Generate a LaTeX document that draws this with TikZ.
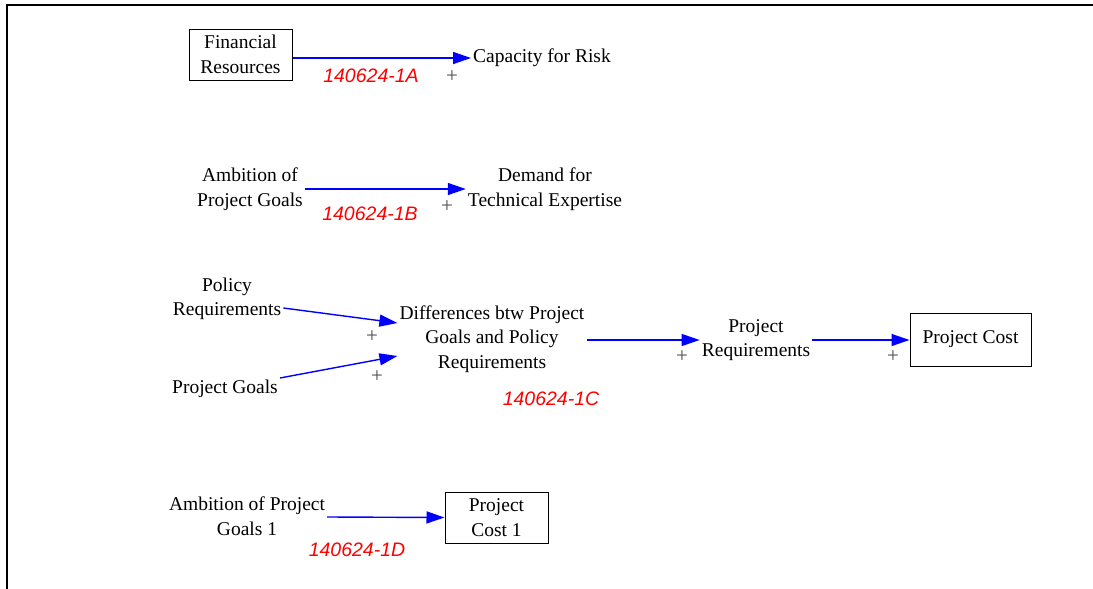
\documentclass[tikz,border=0pt]{standalone}
\usepackage{fontspec}
\setmainfont{Liberation Serif}
\newfontfamily\tagfont{Liberation Sans}
\usetikzlibrary{arrows.meta}

\begin{document}
\begin{tikzpicture}[
    x=1pt, y=-1pt,
    var text/.style={align=center, inner sep=2pt, font=\fontsize{19.5}{24.5}\selectfont, text=black},
    var box/.style={var text, draw, line width=1pt, inner sep=0pt},
    link/.style={-{Triangle[length=18pt, width=12pt]}, blue, line width=1.4pt},
    tag/.style={font=\tagfont\itshape\fontsize{19.5}{19.5}\selectfont, red},
    sign/.style={font=\fontsize{21}{21}\selectfont, black!70},
]

\useasboundingbox (0,0) rectangle (1093,589);

% === Frame ===
\draw[line width=2pt] (7,589) -- (7,5) -- (1093,5);

% === 140624-1A ===
\node[var box, minimum width=103, minimum height=51] (FinRes) at (240.5,54.5) {Financial\\Resources};
\node[var text] (CapRisk) at (542,58) {Capacity for Risk};
\draw[link] (FinRes.east |- CapRisk.west) -- (CapRisk.west);
\node[tag] (tagA) at (371,76) {140624-1A};
\node[sign] (sA) at (452,77) {+};

% === 140624-1B ===
\node[var text] (AmbPG) at (250,189) {Ambition of\\Project Goals};
\node[var text] (DemTech) at (545,189) {Demand for\\Technical Expertise};
\draw[link] (AmbPG.east) -- (DemTech.west);
\node[tag] (tagB) at (370,214) {140624-1B};
\node[sign] (sB) at (447,207) {+};

% === 140624-1C ===
\node[var text] (PolReq) at (227,299) {Policy\\Requirements};
\node[var text] (ProjGoals) at (225,389) {Project Goals};
\node[var text] (Diff) at (492,339) {Differences btw Project\\Goals and Policy\\Requirements};
\node[var text] (ProjReq) at (756,340) {Project\\Requirements};
\node[var box, minimum width=121, minimum height=53] (ProjCost) at (970.5,339.5) {Project Cost};

\draw[link] ([yshift=-9pt]PolReq.east) -- ([yshift=16pt]Diff.west);
\draw[link] ([yshift=11pt]ProjGoals.east) -- ([yshift=-17pt]Diff.west);
\draw[link] ([yshift=-1pt]Diff.east) -- ([yshift=0pt]ProjReq.west);
\draw[link] ([yshift=0pt]ProjReq.east) -- ([yshift=-0.5pt]ProjCost.west);

\node[sign] (sC1) at (372,337) {+};
\node[sign] (sC2) at (377,377) {+};
\node[sign] (sC3) at (682,357) {+};
\node[sign] (sC4) at (893,357) {+};
\node[tag] (tagC) at (551,399) {140624-1C};

% === 140624-1D ===
\node[var text] (AmbPG1) at (247,516) {Ambition of Project\\Goals 1};
\node[var box, minimum width=103, minimum height=51] (ProjCost1) at (496.5,517.5) {Project\\Cost 1};
\draw[link] ([yshift=-1pt]AmbPG1.east) -- (ProjCost1.west);
\node[tag] (tagD) at (357,550) {140624-1D};

\end{tikzpicture}
\end{document}
